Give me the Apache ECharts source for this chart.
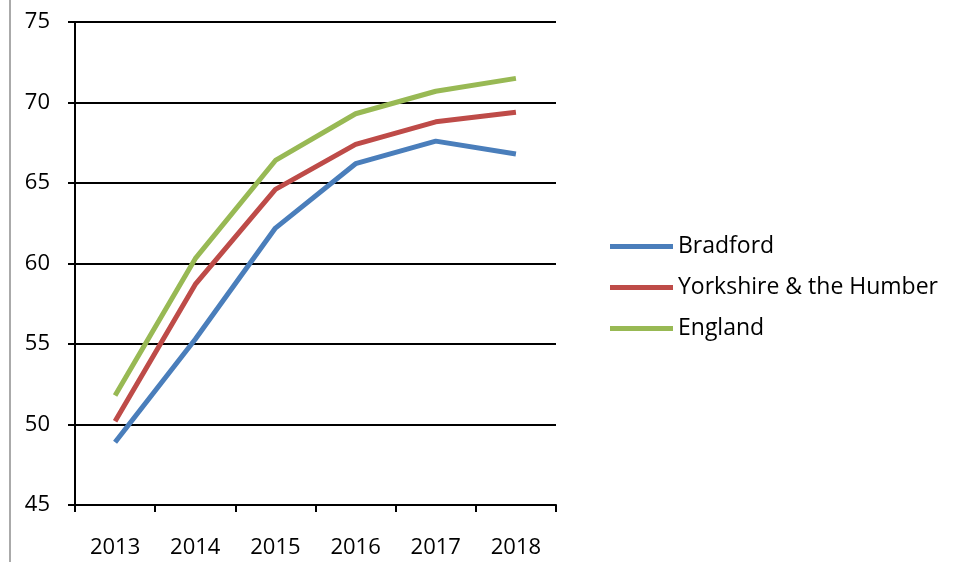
<!DOCTYPE html>
<html>
<head>
<meta charset="utf-8">
<script src="https://cdn.jsdelivr.net/npm/echarts@6/dist/echarts.min.js"></script>
<style>
  html, body { margin: 0; padding: 0; background: #fff; }
  #chart { width: 960px; height: 562px; }
</style>
</head>
<body>
<div id="chart"></div>
<script>
// 数据
const years = ['2013', '2014', '2015', '2016', '2017', '2018']
const bradford = [48.9, 55.3, 62.2, 66.2, 67.6, 66.8]
const yorkshire = [50.2, 58.7, 64.6, 67.4, 68.8, 69.4]
const england = [51.8, 60.3, 66.4, 69.3, 70.7, 71.5]

const seriesNames = ['Bradford', 'Yorkshire & the Humber', 'England']
const colors = ['#4a7ebb', '#be4b48', '#98b954']

const font = '"Open Sans", "Noto Sans", sans-serif'

function lineSeries(name, data, color) {
  return {
    name: name,
    type: 'line',
    data: data,
    symbol: 'none',
    color: color,
    lineStyle: { width: 5, color: color },
    z: 3
  }
}

const chart = echarts.init(document.getElementById('chart'), null, { renderer: 'canvas' })
chart.setOption({
  animation: false,
  backgroundColor: '#fff',
  textStyle: { fontFamily: font },
  grid: { left: 75, right: 404, top: 22, bottom: 57 },
  legend: {
    orient: 'vertical',
    left: 605,
    top: 230,
    icon: 'rect',
    itemWidth: 63,
    itemHeight: 5,
    itemGap: 18,
    textStyle: { fontSize: 23, color: '#000', fontFamily: font, lineHeight: 23 },
    data: seriesNames
  },
  xAxis: {
    type: 'category',
    data: years,
    boundaryGap: true,
    axisLine: { lineStyle: { color: '#000', width: 2 } },
    axisTick: { show: true, length: 7, lineStyle: { color: '#000', width: 2 } },
    axisLabel: { color: '#000', fontSize: 22, margin: 32, fontFamily: font },
    splitLine: { show: false }
  },
  yAxis: {
    type: 'value',
    min: 45,
    max: 75,
    interval: 5,
    axisLine: { show: true, lineStyle: { color: '#000', width: 2 } },
    axisTick: { show: true, length: 7, lineStyle: { color: '#000', width: 2 } },
    axisLabel: { color: '#000', fontSize: 22, margin: 25, fontFamily: font },
    splitLine: { show: true, lineStyle: { color: '#000', width: 2 } }
  },
  graphic: [{
    type: 'line',
    shape: { x1: 10, y1: 0, x2: 10, y2: 562 },
    style: { stroke: '#aaa', lineWidth: 2 }
  }],
  series: [
    lineSeries(seriesNames[0], bradford, colors[0]),
    lineSeries(seriesNames[1], yorkshire, colors[1]),
    lineSeries(seriesNames[2], england, colors[2])
  ]
})
window.addEventListener('resize', () => chart.resize())
</script>
</body>
</html>
